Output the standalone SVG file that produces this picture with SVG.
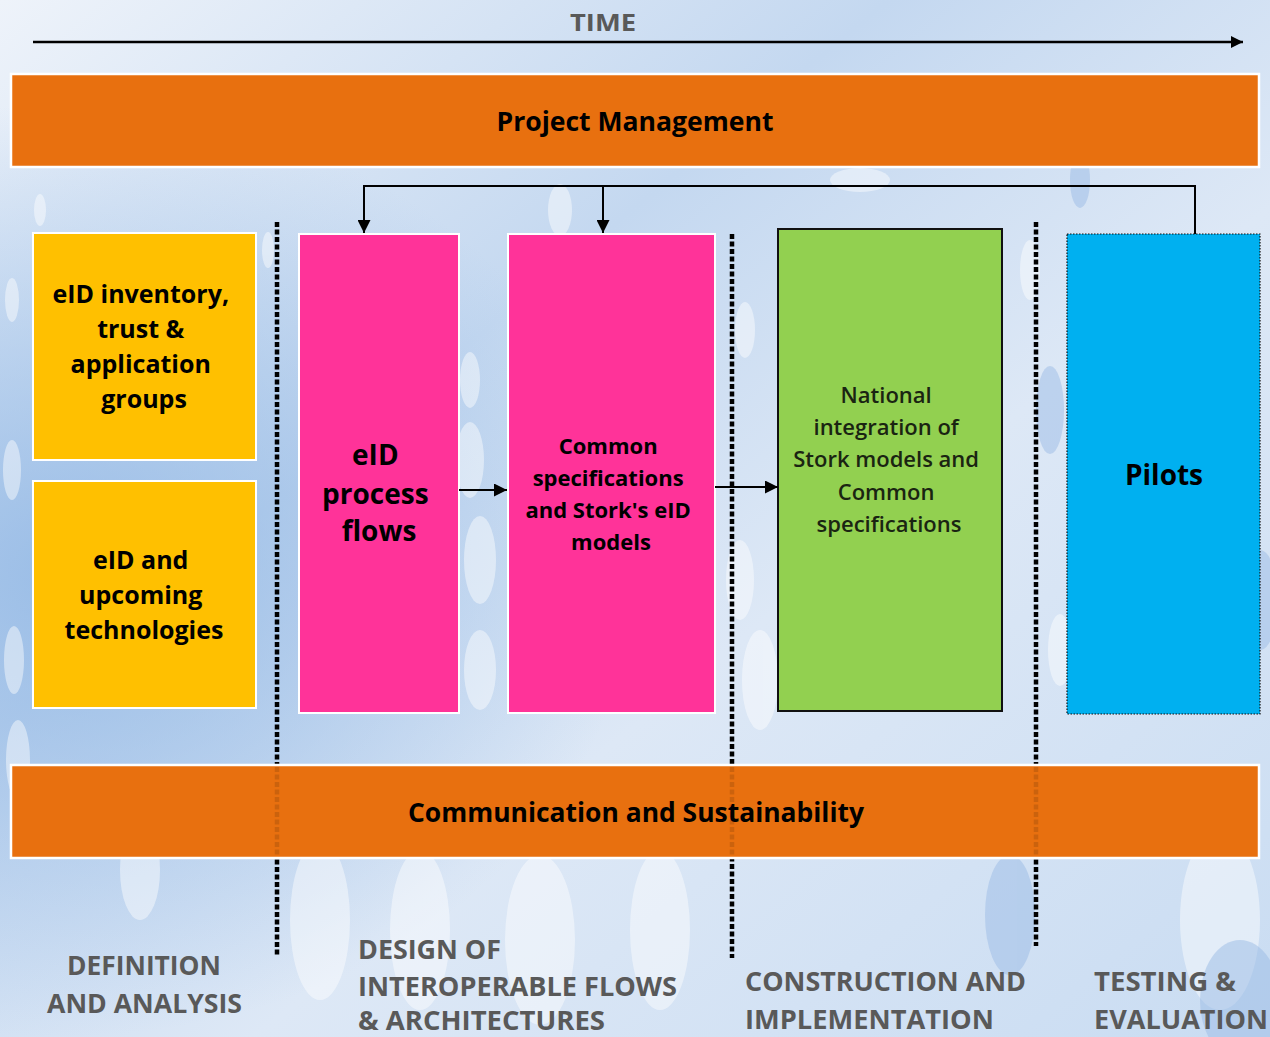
<svg xmlns="http://www.w3.org/2000/svg" width="1270" height="1037" viewBox="0 0 1270 1037">
<defs>
<linearGradient id="bg" x1="0" y1="0" x2="1" y2="1">
<stop offset="0" stop-color="#eef3fa"/>
<stop offset="0.35" stop-color="#c4d8f0"/>
<stop offset="0.6" stop-color="#dde8f6"/>
<stop offset="1" stop-color="#c9dcf2"/>
</linearGradient>
<radialGradient id="blueL" cx="0.05" cy="0.55" r="0.45">
<stop offset="0" stop-color="#8fb6e4" stop-opacity="0.8"/>
<stop offset="1" stop-color="#8fb6e4" stop-opacity="0"/>
</radialGradient>
<marker id="ah" viewBox="0 0 10 10" refX="10" refY="5" markerWidth="5" markerHeight="5" orient="auto" markerUnits="strokeWidth">
<path d="M0,0 L10,5 L0,10 z" fill="#000"/>
</marker>
<marker id="ah2" viewBox="0 0 10 10" refX="10" refY="5" markerWidth="6.5" markerHeight="6.5" orient="auto" markerUnits="strokeWidth">
<path d="M0,0 L10,5 L0,10 z" fill="#000"/>
</marker>
</defs>
<style>
text{font-family:"Open Sans","Noto Sans","Liberation Sans",sans-serif;font-weight:700;text-anchor:middle;fill:#000}
.band{fill:#E8700F;stroke:#fff;stroke-width:2.5}
.yel{fill:#FFC000;stroke:#fff;stroke-width:2}
.pink{fill:#FF3399;stroke:#fff;stroke-width:2}
.grn{fill:#92D050;stroke:#111;stroke-width:2}
.blu{fill:#00B0F0;stroke:#111;stroke-width:1.2;stroke-dasharray:1.5 1.5}
.sep{stroke:#000;stroke-width:4.5;stroke-dasharray:5 2.5;fill:none}
.phase{fill:#595959;text-anchor:start}
.conn{stroke:#000;stroke-width:2;fill:none}
.gtxt{fill:#1a2412;font-weight:600}
</style>
<rect width="1270" height="1037" fill="url(#bg)"/>
<rect width="1270" height="1037" fill="url(#blueL)"/>
<g fill="#ffffff" opacity="0.45">
<ellipse cx="12" cy="300" rx="7" ry="22"/><ellipse cx="40" cy="210" rx="6" ry="16"/><ellipse cx="12" cy="470" rx="9" ry="30"/>
<ellipse cx="14" cy="660" rx="10" ry="34"/><ellipse cx="18" cy="760" rx="12" ry="40"/><ellipse cx="268" cy="250" rx="6" ry="18"/>
<ellipse cx="470" cy="460" rx="14" ry="38"/><ellipse cx="480" cy="560" rx="16" ry="44"/><ellipse cx="480" cy="670" rx="16" ry="40"/>
<ellipse cx="470" cy="380" rx="10" ry="28"/><ellipse cx="740" cy="580" rx="14" ry="40"/><ellipse cx="760" cy="680" rx="18" ry="50"/>
<ellipse cx="745" cy="330" rx="10" ry="28"/><ellipse cx="320" cy="920" rx="30" ry="80"/><ellipse cx="420" cy="930" rx="30" ry="80"/>
<ellipse cx="540" cy="940" rx="35" ry="85"/><ellipse cx="660" cy="930" rx="30" ry="80"/><ellipse cx="1220" cy="920" rx="40" ry="90"/>
<ellipse cx="140" cy="870" rx="20" ry="50"/><ellipse cx="1060" cy="650" rx="12" ry="36"/><ellipse cx="1030" cy="270" rx="10" ry="30"/>
<ellipse cx="860" cy="180" rx="30" ry="12"/><ellipse cx="560" cy="210" rx="12" ry="26"/>
</g>
<g fill="#9bbce6" opacity="0.5">
<ellipse cx="1080" cy="180" rx="10" ry="28"/><ellipse cx="1050" cy="410" rx="14" ry="44"/><ellipse cx="1260" cy="600" rx="18" ry="50"/>
<ellipse cx="1010" cy="915" rx="25" ry="60"/><ellipse cx="1240" cy="1000" rx="40" ry="60"/>
</g>

<g id="time">
<text x="603" y="31" style="fill:#595959;font-size:24px" textLength="66" lengthAdjust="spacingAndGlyphs">TIME</text>
<line x1="33" y1="42" x2="1243" y2="42" stroke="#000" stroke-width="2.5" marker-end="url(#ah)"/>
</g>

<g id="separators">
<line class="sep" x1="277" y1="222" x2="277" y2="956"/>
<line class="sep" x1="732" y1="234" x2="732" y2="958"/>
<line class="sep" x1="1036" y1="222" x2="1036" y2="946"/>
</g>

<g id="project-management">
<rect class="band" x="11" y="74" width="1248" height="93"/>
<text x="635" y="131" style="font-size:26px" textLength="277" lengthAdjust="spacingAndGlyphs">Project Management</text>
</g>

<g id="eid-inventory">
<rect class="yel" x="33" y="233" width="223" height="227"/>
<text style="font-size:25px">
<tspan x="144" y="303">eID inventory,</tspan>
<tspan x="144" y="338">trust &amp;</tspan>
<tspan x="144" y="373">application</tspan>
<tspan x="144" y="408">groups</tspan>
</text>
</g>

<g id="eid-upcoming">
<rect class="yel" x="33" y="481" width="223" height="227"/>
<text style="font-size:25px">
<tspan x="144" y="569">eID and</tspan>
<tspan x="144" y="604">upcoming</tspan>
<tspan x="144" y="639">technologies</tspan>
</text>
</g>

<g id="eid-process-flows">
<rect class="pink" x="299" y="234" width="160" height="479"/>
<text style="font-size:28px">
<tspan x="379" y="465">eID</tspan>
<tspan x="379" y="504">process</tspan>
<tspan x="379" y="541">flows</tspan>
</text>
</g>

<g id="common-specs">
<rect class="pink" x="508" y="234" width="207" height="479"/>
<text style="font-size:22px">
<tspan x="611" y="454">Common</tspan>
<tspan x="611" y="486">specifications</tspan>
<tspan x="611" y="518">and Stork's eID</tspan>
<tspan x="611" y="550">models</tspan>
</text>
</g>

<g id="national-integration">
<rect class="grn" x="778" y="229" width="224" height="482"/>
<text class="gtxt" style="font-size:22px">
<tspan x="889" y="403">National</tspan>
<tspan x="889" y="435">integration of</tspan>
<tspan x="889" y="467">Stork models and</tspan>
<tspan x="889" y="500">Common</tspan>
<tspan x="889" y="532">specifications</tspan>
</text>
</g>

<g id="pilots">
<rect class="blu" x="1067" y="234" width="193" height="480"/>
<text x="1164" y="485" style="font-size:28px">Pilots</text>
</g>

<g id="connectors">
<polyline class="conn" points="1195,234 1195,186 364,186 364,233" marker-end="url(#ah2)"/>
<line class="conn" x1="603" y1="186" x2="603" y2="233" marker-end="url(#ah2)"/>
<line class="conn" x1="459" y1="490" x2="507" y2="490" marker-end="url(#ah2)"/>
<line class="conn" x1="715" y1="487" x2="778" y2="487" marker-end="url(#ah2)"/>
</g>

<g id="communication">
<rect class="band" x="11" y="765" width="1248" height="93"/>
<g opacity="0.12">
<line class="sep" x1="277" y1="767" x2="277" y2="856"/>
<line class="sep" x1="732" y1="767" x2="732" y2="856"/>
<line class="sep" x1="1036" y1="767" x2="1036" y2="856"/>
</g>
<text x="636" y="822" style="font-size:26px" textLength="456" lengthAdjust="spacingAndGlyphs">Communication and Sustainability</text>
</g>

<g id="phases" style="font-size:27px">
<text class="phase" x="67" y="975" textLength="154" lengthAdjust="spacingAndGlyphs">DEFINITION</text>
<text class="phase" x="47" y="1013" textLength="195" lengthAdjust="spacingAndGlyphs">AND ANALYSIS</text>
<text class="phase" x="358" y="959" textLength="143" lengthAdjust="spacingAndGlyphs">DESIGN OF</text>
<text class="phase" x="358" y="996" textLength="319" lengthAdjust="spacingAndGlyphs">INTEROPERABLE FLOWS</text>
<text class="phase" x="358" y="1030" style="font-size:26px" textLength="247" lengthAdjust="spacingAndGlyphs">&amp; ARCHITECTURES</text>
<text class="phase" x="745" y="991" textLength="281" lengthAdjust="spacingAndGlyphs">CONSTRUCTION AND</text>
<text class="phase" x="745" y="1029" textLength="249" lengthAdjust="spacingAndGlyphs">IMPLEMENTATION</text>
<text class="phase" x="1094" y="991" textLength="142" lengthAdjust="spacingAndGlyphs">TESTING &amp;</text>
<text class="phase" x="1094" y="1029" textLength="174" lengthAdjust="spacingAndGlyphs">EVALUATION</text>
</g>
</svg>
